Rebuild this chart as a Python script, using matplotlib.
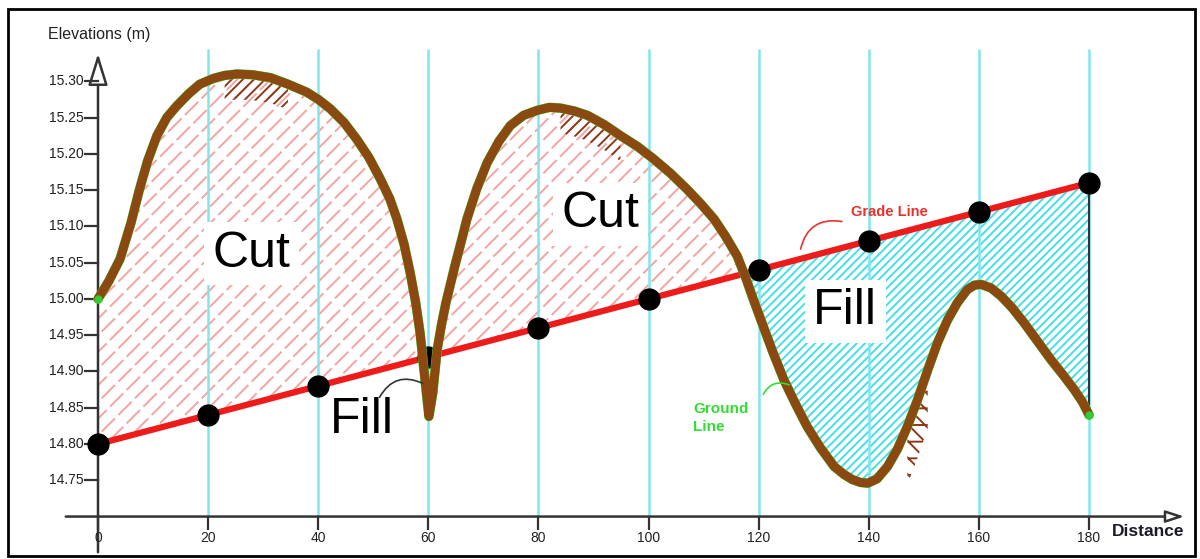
import matplotlib.pyplot as plt
import numpy as np
from matplotlib.patches import Rectangle

# stations along the profile (m) and the grade line elevations
stations = [0, 20, 40, 60, 80, 100, 120, 140, 160, 180]
grade = [14.80, 14.84, 14.88, 14.92, 14.96, 15.00, 15.04, 15.08, 15.12, 15.16]

# ground line
ground_x = [0, 2, 4, 6, 7.5, 9, 10.7, 12.5, 14.3, 16.5, 18.5, 21, 23, 25.2,
            28, 31.3, 34.5, 37.9, 40, 42.2, 44.7, 47.0, 49.2, 51.3, 53, 54.3,
            55.6, 56.7, 57.7, 58.5, 59.3, 60.1, 60.8, 61.6, 62.4, 63.2, 64.8,
            66, 67.0, 68.8, 70.7, 72.8, 74.9, 77.3, 79.8, 82, 84.0, 86.5, 88.9,
            92, 94.9, 98, 100.9, 104, 107.0, 109.5, 111.9, 114, 116.1, 117.6,
            119.0, 120.4, 122.5, 124.6, 126.7, 128.8, 131.2, 133.7, 135.5,
            137.0, 138.5, 139.8, 141.5, 143.4, 145.2, 147.0, 148.9, 150.7,
            152.5, 154.3, 156.1, 157.9, 159.2, 160.4, 162.2, 164.0, 166, 168.2,
            170.6, 173.1, 175.2, 177.3, 178.8, 180]
ground_y = [15.000, 15.025, 15.055, 15.105, 15.150, 15.190, 15.225, 15.250,
            15.266, 15.283, 15.296, 15.304, 15.308, 15.310, 15.309, 15.305,
            15.296, 15.285, 15.275, 15.262, 15.243, 15.220, 15.195, 15.165,
            15.138, 15.110, 15.075, 15.036, 14.995, 14.953, 14.895, 14.838,
            14.870, 14.930, 14.965, 14.995, 15.045, 15.080, 15.110, 15.152,
            15.188, 15.217, 15.239, 15.253, 15.260, 15.264, 15.263, 15.259,
            15.253, 15.240, 15.225, 15.210, 15.193, 15.173, 15.151, 15.131,
            15.110, 15.086, 15.059, 15.030, 15.000, 14.971, 14.928, 14.888,
            14.855, 14.824, 14.795, 14.769, 14.758, 14.751, 14.747, 14.746,
            14.752, 14.769, 14.793, 14.824, 14.862, 14.902, 14.940, 14.971,
            14.995, 15.013, 15.019, 15.020, 15.015, 15.004, 14.988, 14.967,
            14.942, 14.916, 14.896, 14.875, 14.858, 14.840]

yticks = [14.75, 14.80, 14.85, 14.90, 14.95, 15.00, 15.05, 15.10, 15.15,
          15.20, 15.25, 15.30]
xticks = [0, 20, 40, 60, 80, 100, 120, 140, 160, 180]

plt.rcParams['font.family'] = ['Liberation Sans', 'DejaVu Sans']
plt.rcParams['hatch.linewidth'] = 1.4

fig = plt.figure(figsize=(12, 5.59), dpi=100)
ax = fig.add_axes([0, 0, 1, 1])
ax.set_xlim(-17.80, 200.15)
ax.set_ylim(14.6415, 15.412)
ax.axis('off')

gx = np.array(ground_x)
gy = np.array(ground_y)
gl = np.interp(gx, stations, grade)

# cut (ground above grade): pink strokes broken into dashes by white strokes
cut = gy >= gl
ax.fill_between(gx, gy, gl, where=cut, interpolate=True, facecolor='none',
                edgecolor='#f4a4a4', hatch='//', linewidth=0, zorder=1)
with plt.rc_context({'hatch.linewidth': 3.4}):
    ax.fill_between(gx, gy, gl, where=cut, interpolate=True, facecolor='none',
                    edgecolor='white', hatch='\\', linewidth=0, zorder=1.2)
# fill (ground below grade)
ax.fill_between(gx, gy, gl, where=(gy <= gl) & (gx > 100), interpolate=True,
                facecolor='none', edgecolor='#45dfe9', hatch='////',
                linewidth=0, zorder=1)

# station lines
ax.vlines(xticks[1:], 14.70, 15.344, color='#80e6ee', lw=1.8, zorder=2)
ax.vlines(180, ground_y[-1], grade[-1], color='#333333', lw=1.5, zorder=3)

# slope marks drawn on the ground line
for lo, hi in [(23, 36), (83, 95)]:
    m = (gx >= lo) & (gx <= hi)
    ax.fill_between(gx[m], gy[m] - 0.035, gy[m], facecolor='none',
                    edgecolor='#8a3a1a', hatch='///', linewidth=0, zorder=3)
m = (gx >= 146.5) & (gx <= 152)
ax.fill_between(gx[m], gy[m] - 0.08, gy[m], facecolor='none',
                edgecolor='#8a3a1a', hatch='\\\\-', linewidth=0, zorder=3)

# grade line and ground line
ax.plot(stations, grade, color='#ee1b1b', lw=4.5, zorder=4)
ax.plot(stations, grade, 'o', color='black', ms=15, zorder=5)
ax.plot(gx, gy, color='#44dd44', lw=6.9, zorder=6, solid_joinstyle='round',
        solid_capstyle='round')
ax.plot(gx, gy, color='#8b4810', lw=6.4, zorder=7, solid_joinstyle='round',
        solid_capstyle='round')
ax.plot([gx[0], gx[-1]], [gy[0], gy[-1]], 'o', color='#33cc33', ms=5, zorder=8)

# hand drawn axes
ax.annotate('', xy=(0, 15.342), xytext=(0, 14.647),
            arrowprops=dict(arrowstyle='-|>,head_length=0.97,head_width=0.3',
                            mutation_scale=20, lw=1.8, ec='#333333', fc='white'),
            zorder=3)
ax.annotate('', xy=(197.8, 14.70), xytext=(-6.36, 14.70),
            arrowprops=dict(arrowstyle='-|>,head_length=0.55,head_width=0.18',
                            mutation_scale=20, lw=1.8, ec='#333333', fc='white'),
            zorder=3)
for t in yticks:
    ax.plot([-2.3, 0], [t, t], color='#333333', lw=1.6, zorder=3)
    ax.text(-2.6, t, f'{t:.2f}', ha='right', va='center', fontsize=10,
            color='#222222')
ax.vlines(xticks, 14.682, 14.70, color='#333333', lw=1.6, zorder=3)
for x in xticks:
    ax.text(x, 14.671, str(x), ha='center', va='center', fontsize=10,
            color='#222222')

ax.text(-9.08, 15.364, 'Elevations (m)', ha='left', va='center', fontsize=11.5,
        color='#222222')
ax.text(190.7, 14.680, 'Distance', ha='center', va='center', fontsize=12.5,
        fontweight='bold', color='#1a1a2a')

# region labels
box = dict(facecolor='white', edgecolor='none', pad=6)
ax.text(27.8, 15.062, 'Cut', ha='center', va='center', fontsize=36, bbox=box,
        zorder=9)
ax.text(91.2, 15.117, 'Cut', ha='center', va='center', fontsize=36, bbox=box,
        zorder=9)
ax.text(135.7, 14.983, 'Fill', ha='center', va='center', fontsize=36, bbox=box,
        zorder=9)
ax.text(47.9, 14.833, 'Fill', ha='center', va='center', fontsize=36, zorder=9)

# line call-outs
ax.text(143.8, 15.120, 'Grade Line', ha='center', va='center', fontsize=10.5,
        fontweight='bold', color='#e8322e', zorder=9)
ax.annotate('', xy=(135.6, 15.106), xytext=(127.5, 15.065),
            arrowprops=dict(arrowstyle='-', color='#e8322e', lw=1.2,
                            connectionstyle='arc3,rad=-0.5'), zorder=9)
ax.text(108.1, 14.858, 'Ground\nLine', ha='left', va='top', fontsize=11,
        fontweight='bold', color='#33dd33', linespacing=1.35, zorder=9)
ax.annotate('', xy=(126.0, 14.880), xytext=(120.6, 14.865),
            arrowprops=dict(arrowstyle='-', color='#33dd33', lw=1.2,
                            connectionstyle='arc3,rad=-0.5'), zorder=9)
ax.annotate('', xy=(59.4, 14.882), xytext=(50.9, 14.861),
            arrowprops=dict(arrowstyle='-', color='#333333', lw=1.2,
                            connectionstyle='arc3,rad=-0.5'), zorder=9)

# frame around the sheet
fig.add_artist(Rectangle((0.0067, 0.0054), 0.9891, 0.9785,
                         transform=fig.transFigure, fill=False, lw=2,
                         ec='black'))

fig.savefig('out.png', dpi=100)
